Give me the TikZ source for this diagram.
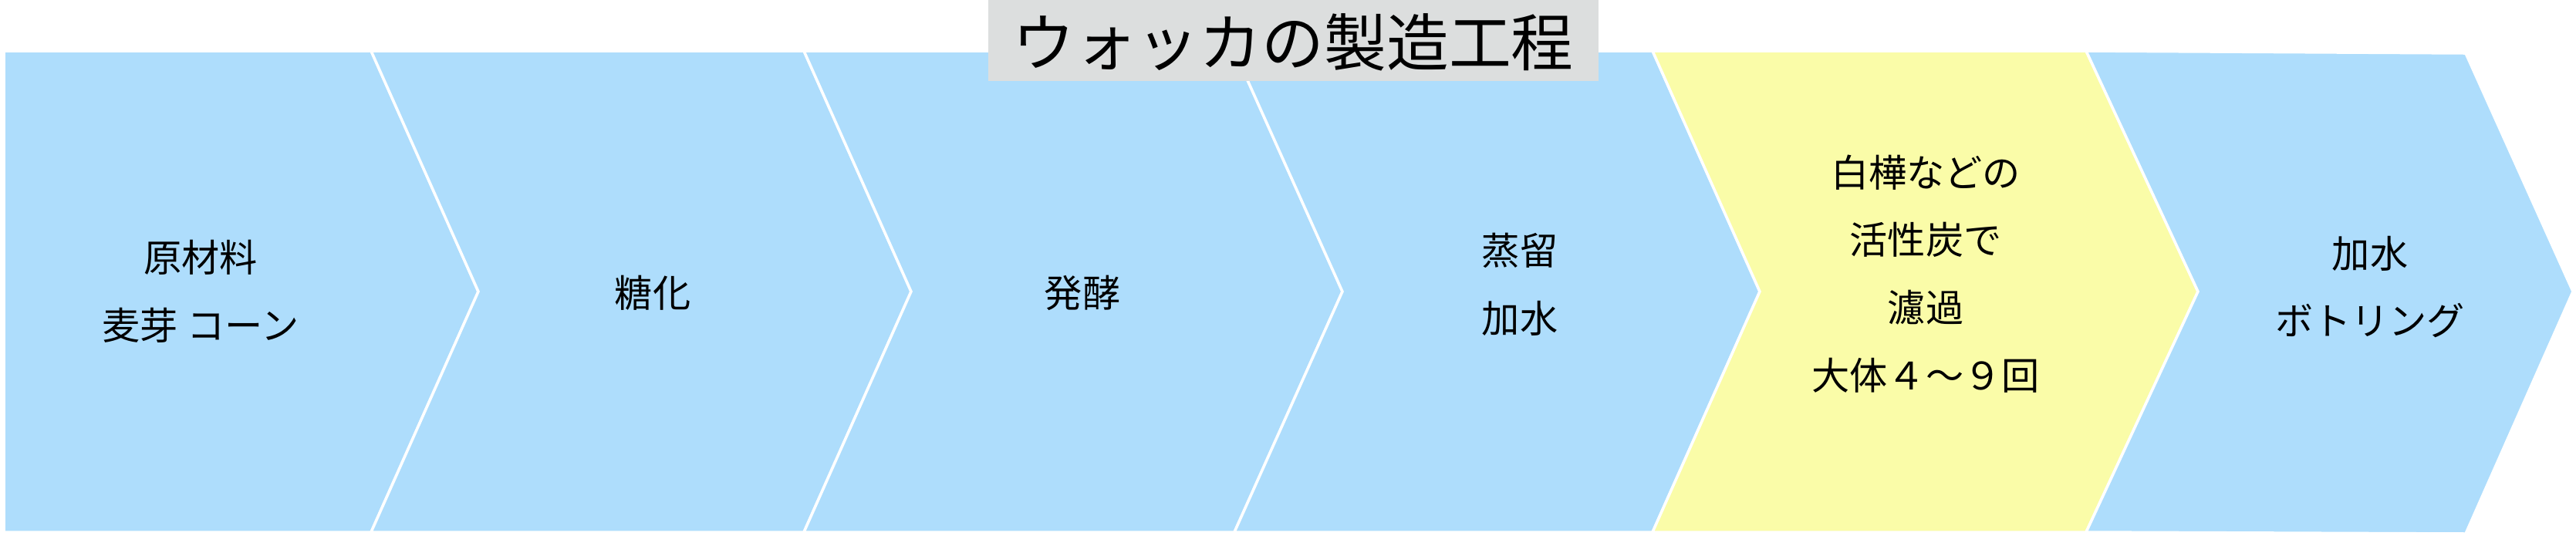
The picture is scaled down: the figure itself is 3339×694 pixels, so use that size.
\documentclass[tikz,border=0pt]{standalone}
\usepackage{fontspec}
\setmainfont{Noto Sans CJK JP}
\usepackage{xcolor}
\usepackage{tikz}
\definecolor{stepblue}{RGB}{174,221,252}
\definecolor{stepyellow}{RGB}{250,252,168}
\definecolor{titlegray}{RGB}{220,222,222}

\begin{document}
\begin{tikzpicture}[x=0.1mm, y=-0.1mm, every node/.style={font=\fontsize{14}{25}\selectfont, align=center},
  chev/.style={fill=stepblue, draw=white, line width=1pt}]
\useasboundingbox (0,0) rectangle (3339,694);
% chevrons
\path[chev] (5,66) -- (481,66) -- (620,378) -- (481,690) -- (5,690) -- cycle;
\path[chev] (481,66) -- (1042,66) -- (1181,378) -- (1042,690) -- (481,690) -- (620,378) -- cycle;
\path[chev] (1042,66) -- (1600,66) -- (1740,378) -- (1600,690) -- (1042,690) -- (1181,378) -- cycle;
\path[chev] (1600,66) -- (2142,66) -- (2281,378) -- (2142,690) -- (1600,690) -- (1740,378) -- cycle;
\path[chev, fill=stepyellow] (2142,66) -- (2704,66) -- (2849,378) -- (2704,690) -- (2142,690) -- (2281,378) -- cycle;
\path[chev] (2704,66) -- (3196,69) -- (3335,378) -- (3196,692) -- (2704,690) -- (2849,378) -- cycle;
\node (raw) at (260,378) {原材料\\麦芽 コーン};
\node (sacc) at (846,380) {糖化};
\node (ferm) at (1403,380) {発酵};
\node (dist) at (1970,369) {蒸留\\加水};
\node (filt) at (2496,355) {白樺などの\\活性炭で\\濾過\\大体４～９回};
\node (bott) at (3072,372) {加水\\ボトリング};
% title
\fill[titlegray] (1281,0) rectangle (2072,105);
\node[font=\fontsize{23}{28}\selectfont] (title) at (1676,55) {ウォッカの製造工程};
\end{tikzpicture}
\end{document}
